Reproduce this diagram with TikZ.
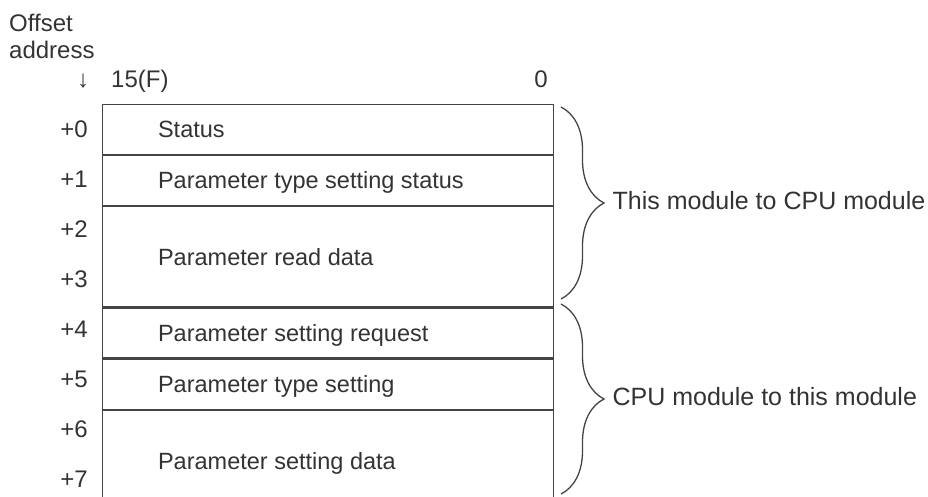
\documentclass[tikz,border=0pt]{standalone}
\usepackage{fontspec}
\setmainfont{Liberation Sans}
\usetikzlibrary{positioning,decorations.pathreplacing,calc}
\definecolor{linegray}{HTML}{444444}
\definecolor{textgray}{HTML}{333333}
\tikzset{
  lbl/.style={inner sep=0pt, text=textgray, font=\fontsize{24}{28.8}\selectfont},
  celltext/.style={lbl, anchor=west, text height=17pt, text depth=0pt,
    font=\fontsize{23.5}{28}\selectfont},
  offs/.style={lbl, anchor=east, text height=17pt, text depth=0pt},
  sidetext/.style={lbl, text height=18pt, text depth=0pt,
    font=\fontsize{25}{30}\selectfont},
  cellbox/.style={draw=linegray, line width=1.3pt, minimum width=451pt, inner sep=0pt},
  bracearr/.style={draw=linegray, line width=1.3pt, decorate,
    decoration={brace, amplitude=43pt}}
}
\begin{document}
\begin{tikzpicture}[x=1pt, y=-1pt, node distance=0pt]
  \useasboundingbox (0,0) rectangle (928,496);
  \clip (0,0) rectangle (928,496);
  % header
  \node[lbl, anchor=base west] (offset) at (9,31) {Offset};
  \node[lbl, anchor=base west] (address) at (9,58) {address};
  \node[lbl, anchor=base] (down) at (83,87) {↓};
  \node[lbl, anchor=base west] (bit15) at (111,87) {15(F)};
  \node[lbl, anchor=base] (bit0) at (541,87) {0};
  % memory cells
  \node[cellbox, minimum height=50pt, anchor=north] (c0) at (328,103.5) {};
  \node[cellbox, minimum height=50pt, below=of c0] (c1) {};
  \node[cellbox, minimum height=100pt, below=of c1] (c2) {};
  \node[cellbox, minimum height=50pt, below=of c2] (c3) {};
  \node[cellbox, minimum height=50pt, below=of c3] (c4) {};
  \node[cellbox, minimum height=100pt, below=of c4] (c5) {};
  \foreach \c/\t in {c0/Status, c1/Parameter type setting status,
      c2/Parameter read data, c3/Parameter setting request,
      c4/Parameter type setting, c5/Parameter setting data}
    \node[celltext] (\c t) at ([xshift=56pt]\c.west) {\t};
  % offsets
  \foreach \k in {0,...,7}
    \node[offs] (o\k) at (88,{129+50*\k}) {+\k};
  % braces
  \coordinate (b1s) at (561,107);
  \coordinate (b1e) at (561,299);
  \coordinate (b2s) at (561,304);
  \coordinate (b2e) at (561,494);
  \draw[bracearr] (b1s) -- (b1e)
    node[sidetext, midway, right=51pt, yshift=3pt] (outdir) {This module to CPU module};
  \draw[bracearr] (b2s) -- (b2e)
    node[sidetext, midway, right=51pt, yshift=3pt] (indir) {CPU module to this module};
\end{tikzpicture}
\end{document}
